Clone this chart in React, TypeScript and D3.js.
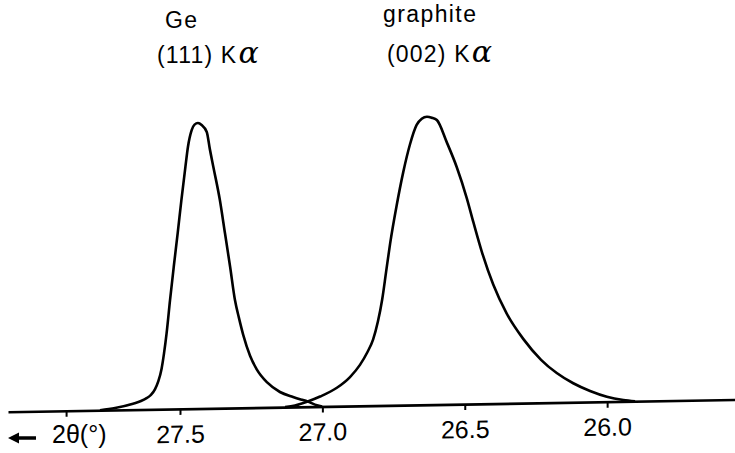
import React, { useEffect, useRef } from "react";
import * as d3 from "d3";

// 2θ in degrees, intensity in arbitrary units
const geTheta = [
  27.781, 27.728, 27.665, 27.637, 27.616, 27.602, 27.588, 27.576, 27.565, 27.556,
  27.547, 27.535, 27.522, 27.508, 27.495, 27.481, 27.472, 27.459, 27.449, 27.437,
  27.424, 27.406, 27.395, 27.383, 27.36, 27.342, 27.324, 27.307, 27.293, 27.278,
  27.254, 27.23, 27.194, 27.149, 27.103, 27.071, 27.054, 27.026, 27.001,
];
const geIntensity = [
  0, 2, 6, 8.5, 11.5, 14.5, 20, 28, 40, 56,
  76, 109, 142, 176, 209, 242, 262, 278.5, 284, 285.5,
  283.5, 276.5, 259, 241.6, 208.2, 174.8, 141.3, 107.9, 90, 73,
  52, 38, 25, 15.2, 10, 7, 5.5, 2, 0,
];

const graphiteTheta = [
  27.131, 27.096, 27.054, 27.008, 26.949, 26.903, 26.868, 26.843, 26.822, 26.805,
  26.79, 26.776, 26.762, 26.739, 26.716, 26.692, 26.669, 26.651, 26.633, 26.616,
  26.598, 26.563, 26.528, 26.493, 26.47, 26.44, 26.4, 26.353, 26.294, 26.232,
  26.177, 26.119, 26.06, 26.001, 25.943, 25.902,
];
const graphiteIntensity = [
  0, 1.5, 5, 10, 18.5, 29, 41, 53, 66, 84,
  106, 134, 162, 200, 233, 261, 280, 286, 288, 287,
  284.5, 262, 237, 206, 182, 152, 119, 90, 64, 43,
  29.5, 19, 11, 5, 1.5, 0,
];

const tickValues = [27.9, 27.5, 27.0, 26.5, 26.0];
const tickLabels = ["", "27.5", "27.0", "26.5", "26.0"];

const WIDTH = 735;
const HEIGHT = 453;
const FONT = "'Liberation Sans', Arial, sans-serif";

const App = () => {
  const svgRef = useRef<SVGSVGElement | null>(null);

  useEffect(() => {
    const svg = d3.select(svgRef.current);
    svg.selectAll("*").remove();

    svg.append("rect").attr("width", WIDTH).attr("height", HEIGHT).attr("fill", "white");

    const x = d3.scaleLinear().domain([28.104, 25.551]).range([8, 735]);
    const y = d3.scaleLinear().domain([0, 300]).range([411.9, 111.9]);

    // the scanned figure is a little tilted: baseline rises to the right
    const plot = svg.append("g").attr("transform", "skewY(-0.9625)");

    const axis = plot
      .append("g")
      .attr("transform", `translate(0,${y(0)})`)
      .call(
        d3
          .axisBottom(x)
          .tickValues(tickValues)
          .tickFormat((_, i) => tickLabels[i])
          .tickSize(6)
          .tickSizeOuter(0)
      );

    axis.select(".domain").attr("stroke", "black").attr("stroke-width", 2.6);
    axis.selectAll(".tick line").attr("stroke", "black").attr("stroke-width", 2);
    axis
      .selectAll(".tick text")
      .attr("y", 34)
      .attr("dy", 0)
      .attr("fill", "black")
      .attr("font-size", 25)
      .attr("font-family", FONT);

    const line = d3.line<number>().curve(d3.curveMonotoneX);

    plot
      .append("path")
      .datum(geIntensity)
      .attr("d", line.x((_, i) => x(geTheta[i])).y((d) => y(d)))
      .attr("fill", "none")
      .attr("stroke", "black")
      .attr("stroke-width", 2.6)
      .attr("stroke-linejoin", "round");

    plot
      .append("path")
      .datum(graphiteIntensity)
      .attr("d", line.x((_, i) => x(graphiteTheta[i])).y((d) => y(d)))
      .attr("fill", "none")
      .attr("stroke", "black")
      .attr("stroke-width", 2.6)
      .attr("stroke-linejoin", "round");

    // axis title with arrow
    svg
      .append("line")
      .attr("x1", 36)
      .attr("x2", 16)
      .attr("y1", 438)
      .attr("y2", 438)
      .attr("stroke", "black")
      .attr("stroke-width", 3.5);
    svg
      .append("path")
      .attr("d", "M8,438L19,432.5L19,443.5Z")
      .attr("fill", "black");
    svg
      .append("text")
      .attr("x", 52)
      .attr("y", 443)
      .attr("font-size", 25)
      .attr("font-family", FONT)
      .attr("fill", "black")
      .text("2θ(°)");

    // peak labels
    const labels = [
      { text: "Ge", x: 165, y: 28 },
      { text: "graphite", x: 383, y: 22 },
    ];
    labels.forEach((l) => {
      svg
        .append("text")
        .attr("x", l.x)
        .attr("y", l.y)
        .attr("font-size", 23)
        .attr("letter-spacing", 1.4)
        .attr("font-family", FONT)
        .attr("fill", "black")
        .text(l.text);
    });

    const reflections = [
      { text: "(111) K", x: 157, y: 63 },
      { text: "(002) K", x: 387, y: 62 },
    ];
    reflections.forEach((r) => {
      const t = svg
        .append("text")
        .attr("x", r.x)
        .attr("y", r.y)
        .attr("font-size", 23)
        .attr("letter-spacing", 1.2)
        .attr("font-family", FONT)
        .attr("fill", "black");
      t.append("tspan").text(r.text);
      t.append("tspan")
        .attr("dx", 1)
        .attr("font-family", "'DejaVu Serif', serif")
        .attr("font-style", "italic")
        .attr("font-size", 30)
        .text("α");
    });
  }, []);

  return (
    <svg
      ref={svgRef}
      width={WIDTH}
      height={HEIGHT}
      style={{ position: "absolute", left: 0, top: 0, display: "block" }}
    />
  );
};

export default App;
